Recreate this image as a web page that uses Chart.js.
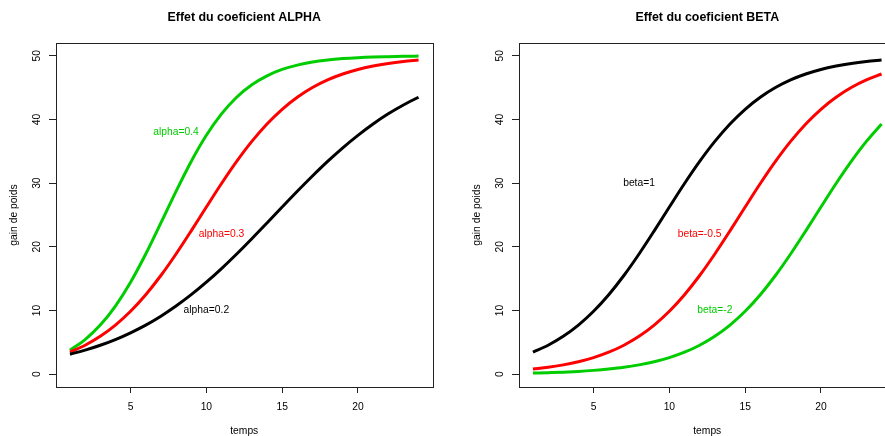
<!DOCTYPE html>
<html>
<head>
<meta charset="utf-8">
<script src="https://cdn.jsdelivr.net/npm/chart.js@4/dist/chart.umd.min.js"></script>
<style>
  html, body { margin: 0; padding: 0; background: #fff; overflow: hidden; }
  #wrap { position: relative; width: 885px; height: 436px; overflow: hidden; }
  .panel { position: absolute; top: 0; width: 463px; height: 436px; }
</style>
</head>
<body>
<div id="wrap">
  <div class="panel" style="left:0"><canvas id="alphaChart" width="463" height="436"></canvas></div>
  <div class="panel" style="left:463px"><canvas id="betaChart" width="463" height="436"></canvas></div>
</div>
<script>
// temps 1..24
const temps = [1, 2, 3, 4, 5, 6, 7, 8, 9, 10, 11, 12, 13, 14, 15, 16, 17, 18, 19, 20, 21, 22, 23, 24];

// gauche : effet de alpha
const alpha02 = [3.15, 3.79, 4.56, 5.45, 6.51, 7.72, 9.12, 10.71, 12.49, 14.45, 16.59, 18.88,
                 21.28, 23.75, 26.25, 28.72, 31.12, 33.41, 35.55, 37.51, 39.29, 40.88, 42.27, 43.49];
const alpha03 = [3.46, 4.56, 5.96, 7.72, 9.89, 12.49, 15.50, 18.88, 22.51, 26.25, 29.94, 33.41,
                 36.55, 39.29, 41.60, 43.49, 45.01, 46.21, 47.13, 47.85, 48.38, 48.79, 49.10, 49.33];
const alpha04 = [3.79, 5.45, 7.72, 10.71, 14.45, 18.88, 23.75, 28.72, 33.41, 37.51, 40.88, 43.49,
                 45.44, 46.85, 47.85, 48.53, 49.01, 49.33, 49.55, 49.70, 49.80, 49.86, 49.91, 49.94];

// droite : effet de beta
const beta1 = [3.46, 4.56, 5.96, 7.72, 9.89, 12.49, 15.50, 18.88, 22.51, 26.25, 29.94, 33.41,
               36.55, 39.29, 41.60, 43.49, 45.01, 46.21, 47.13, 47.85, 48.38, 48.79, 49.10, 49.33];
const betaM05 = [0.82, 1.09, 1.47, 1.96, 2.61, 3.46, 4.56, 5.96, 7.72, 9.89, 12.49, 15.50,
                 18.88, 22.51, 26.25, 29.94, 33.41, 36.55, 39.29, 41.60, 43.49, 45.01, 46.21, 47.13];
const betaM2 = [0.18, 0.25, 0.33, 0.45, 0.61, 0.82, 1.09, 1.47, 1.96, 2.61, 3.46, 4.56,
                5.96, 7.72, 9.89, 12.49, 15.50, 18.88, 22.51, 26.25, 29.94, 33.41, 36.55, 39.29];

const xTicks = [5, 10, 15, 20];
const yTicks = [0, 10, 20, 30, 40, 50];

const alphaLabels = [
  { x: 8, y: 38, text: "alpha=0.4", color: "#00CD00" },
  { x: 11, y: 22, text: "alpha=0.3", color: "#FF0000" },
  { x: 10, y: 10, text: "alpha=0.2", color: "#000000" }
];
const betaLabels = [
  { x: 8, y: 30, text: "beta=1", color: "#000000" },
  { x: 12, y: 22, text: "beta=-0.5", color: "#FF0000" },
  { x: 13, y: 10, text: "beta=-2", color: "#00CD00" }
];

const FONT = "'Liberation Sans', Arial, Helvetica, sans-serif";

function serie(values, color) {
  return {
    data: temps.map((t, i) => ({ x: t, y: values[i] })),
    borderColor: color,
    borderWidth: 3,
    pointRadius: 0,
    fill: false,
    cubicInterpolationMode: "monotone"
  };
}

// cadre, titres, etiquettes de y tournees, textes
function decorPlugin(title, labels) {
  return {
    id: "decor",
    afterDraw(chart) {
      const ctx = chart.ctx;
      const a = chart.chartArea;
      const xs = chart.scales.x, ys = chart.scales.y;
      ctx.save();
      ctx.strokeStyle = "#222";
      ctx.lineWidth = 1;
      ctx.strokeRect(Math.round(a.left) + 0.5, Math.round(a.top) + 0.5,
                     Math.round(a.right - a.left), Math.round(a.bottom - a.top));

      ctx.fillStyle = "#000";
      ctx.textAlign = "center";
      ctx.textBaseline = "middle";
      ctx.font = "bold 12.4px " + FONT;
      ctx.fillText(title, (a.left + a.right) / 2, 18);

      ctx.font = "10.3px " + FONT;
      ctx.fillText("temps", (a.left + a.right) / 2, 431.5);

      ctx.save();
      ctx.translate(14, (a.top + a.bottom) / 2);
      ctx.rotate(-Math.PI / 2);
      ctx.fillText("gain de poids", 0, 0);
      ctx.restore();

      yTicks.forEach(v => {
        ctx.save();
        ctx.translate(37.5, ys.getPixelForValue(v));
        ctx.rotate(-Math.PI / 2);
        ctx.fillText(String(v), 0, 0);
        ctx.restore();
      });

      labels.forEach(l => {
        ctx.fillStyle = l.color;
        ctx.fillText(l.text, xs.getPixelForValue(l.x), ys.getPixelForValue(l.y));
      });
      ctx.restore();
    }
  };
}

function makeChart(id, title, datasets, labels) {
  new Chart(document.getElementById(id), {
    type: "line",
    data: { datasets: datasets },
    options: {
      responsive: false,
      animation: false,
      layout: { padding: { left: 0, top: 43, right: 30.5, bottom: 0 } },
      plugins: { legend: { display: false }, tooltip: { enabled: false }, title: { display: false } },
      scales: {
        x: {
          type: "linear",
          min: 0.08,
          max: 24.92,
          afterBuildTicks: s => { s.ticks = xTicks.map(v => ({ value: v })); },
          afterFit: s => { s.height = 49; },
          border: { display: false },
          grid: { drawOnChartArea: false, drawTicks: true, tickLength: 6, color: "#222" },
          ticks: { color: "#000", padding: 8, maxRotation: 0, font: { family: FONT, size: 10.3 } }
        },
        y: {
          type: "linear",
          min: -2,
          max: 52,
          afterBuildTicks: s => { s.ticks = yTicks.map(v => ({ value: v })); },
          afterFit: s => { s.width = 56; },
          border: { display: false },
          grid: { drawOnChartArea: false, drawTicks: true, tickLength: 7, color: "#222" },
          ticks: { display: false }
        }
      }
    },
    plugins: [decorPlugin(title, labels)]
  });
}

makeChart("alphaChart", "Effet du coeficient ALPHA",
  [serie(alpha02, "#000000"), serie(alpha03, "#FF0000"), serie(alpha04, "#00CD00")], alphaLabels);
makeChart("betaChart", "Effet du coeficient BETA",
  [serie(beta1, "#000000"), serie(betaM05, "#FF0000"), serie(betaM2, "#00CD00")], betaLabels);
</script>
</body>
</html>
